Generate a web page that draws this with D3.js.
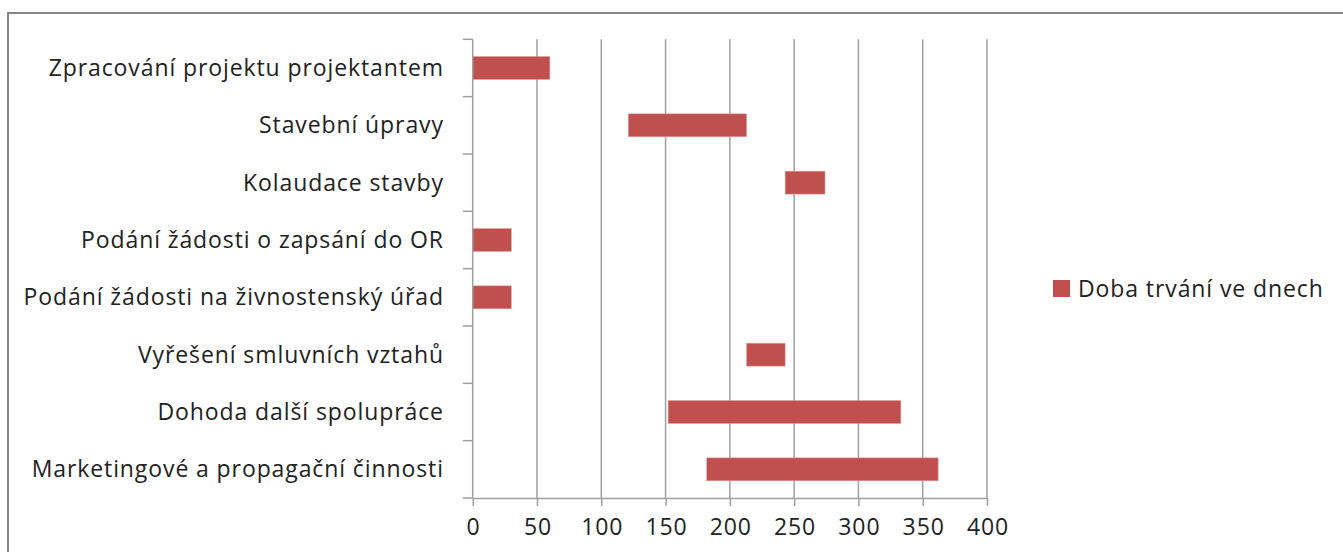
<!DOCTYPE html>
<html><head><meta charset="utf-8">
<script src="https://cdn.jsdelivr.net/npm/d3@7"></script>
<style>html,body{margin:0;padding:0;background:#fff;overflow:hidden}</style>
</head><body>
<svg id="c" width="1343" height="552"></svg>
<script>
const categories = ["Zpracování projektu projektantem","Stavební úpravy","Kolaudace stavby","Podání žádosti o zapsání do OR","Podání žádosti na živnostenský úřad","Vyřešení smluvních vztahů","Dohoda další spolupráce","Marketingové a propagační činnosti"];
const startDays = [0,121,243,0,0,213,152,182];
const durationDays = [60,92,31,30,30,30,181,180];
const xTicks = [0,50,100,150,200,250,300,350,400];
const seriesName = "Doba trvání ve dnech";

const svg = d3.select("#c");
const font = "'Open Sans', sans-serif";
const fs = 23;
const ls = 0.9;
svg.append("rect").attr("x",8).attr("y",13).attr("width",1400).attr("height",600)
  .attr("fill","#fff").attr("stroke","#868686").attr("stroke-width",2);

const m = {left:472.7, right:987, top:39.3, bottom:498};
const x = d3.scaleLinear().domain([0,400]).range([m.left,m.right]);
const y = d3.scaleBand().domain(categories).range([m.top,m.bottom]).paddingInner(0.6).paddingOuter(0.3);

// gridlines
svg.append("g").selectAll("line").data(xTicks.slice(1)).join("line")
  .attr("x1",d=>x(d)).attr("x2",d=>x(d)).attr("y1",m.top).attr("y2",m.bottom)
  .attr("stroke","#a0a0a0").attr("stroke-width",1.5);

// bars
const data = categories.map((c,i)=>({c,s:startDays[i],d:durationDays[i]}));
svg.append("g").selectAll("rect").data(data).join("rect")
  .attr("x",d=>x(d.s)).attr("width",d=>x(d.s+d.d)-x(d.s))
  .attr("y",d=>y(d.c)).attr("height",y.bandwidth())
  .attr("fill","#C0504D").attr("stroke","#e0a0a0").attr("stroke-width",0.6);

// x axis
const xa = svg.append("g").attr("transform",`translate(0,${m.bottom})`)
  .call(d3.axisBottom(x).tickValues(xTicks).tickSize(8).tickSizeOuter(0).tickPadding(13));
xa.select(".domain").attr("stroke","#a0a0a0").attr("stroke-width",1.5);
xa.selectAll(".tick line").attr("stroke","#a0a0a0").attr("stroke-width",1.5);
xa.selectAll("text").attr("font-family",font).attr("font-size",fs).attr("fill","#222")
  .attr("letter-spacing",ls).attr("dx",ls/2);

// y axis
const yStep = (m.bottom-m.top)/categories.length;
const yb = svg.append("g");
yb.append("line").attr("x1",m.left).attr("x2",m.left).attr("y1",m.top).attr("y2",m.bottom)
  .attr("stroke","#a0a0a0").attr("stroke-width",1.5);
yb.selectAll("line.t").data(d3.range(categories.length+1)).join("line").attr("class","t")
  .attr("x1",m.left-10).attr("x2",m.left).attr("y1",i=>m.top+i*yStep).attr("y2",i=>m.top+i*yStep)
  .attr("stroke","#a0a0a0").attr("stroke-width",1.5);
yb.selectAll("text").data(categories).join("text")
  .attr("x",443+ls).attr("y",d=>y(d)+y.bandwidth()/2).attr("dy","0.35em")
  .attr("text-anchor","end").attr("font-family",font).attr("font-size",fs).attr("fill","#222")
  .attr("letter-spacing",ls).text(d=>d);

// legend
const lg = svg.append("g");
lg.append("rect").attr("x",1053).attr("y",280).attr("width",17).attr("height",17).attr("fill","#C0504D");
lg.append("text").attr("x",1078).attr("y",288.5).attr("dy","0.35em").attr("font-family",font)
  .attr("font-size",fs).attr("fill","#222").attr("letter-spacing",ls).text(seriesName);
</script>
</body></html>
